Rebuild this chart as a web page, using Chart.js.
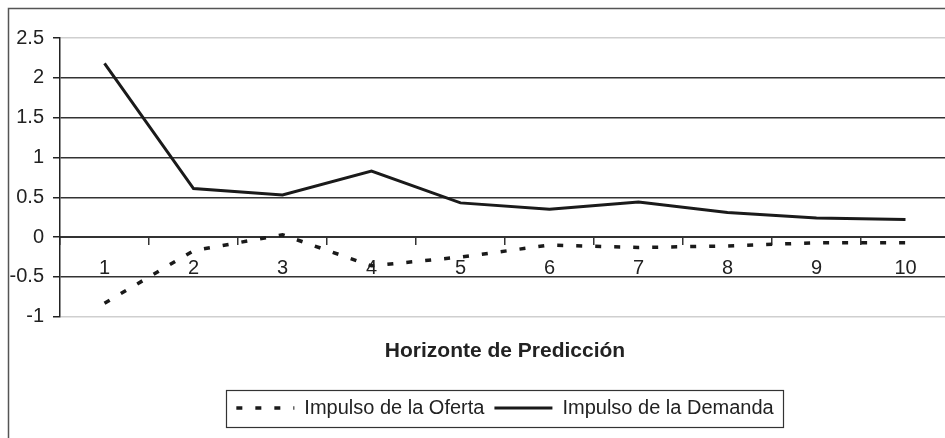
<!DOCTYPE html>
<html>
<head>
<meta charset="utf-8">
<script src="https://cdn.jsdelivr.net/npm/chart.js@4.4.1/dist/chart.umd.min.js"></script>
<style>
  html, body { margin: 0; padding: 0; background: #fff; overflow: hidden; }
  #wrap { width: 950px; height: 438px; position: relative; }
</style>
</head>
<body>
<div id="wrap"><canvas id="chart"></canvas></div>
<script>
// datos
const horizons = ["1", "2", "3", "4", "5", "6", "7", "8", "9", "10"];
const ofertaLabel = "Impulso de la Oferta";
const demandaLabel = "Impulso de la Demanda";
const oferta = [-0.83, -0.17, 0.03, -0.36, -0.25, -0.10, -0.13, -0.11, -0.07, -0.07];
const demanda = [2.18, 0.61, 0.53, 0.83, 0.43, 0.35, 0.44, 0.31, 0.24, 0.22];
const xTitle = "Horizonte de Predicción";

const FONT = "Arial, 'Liberation Sans', sans-serif";

// marco exterior (solo se ven izquierda y arriba)
const framePlugin = {
  id: "frame",
  beforeDraw: (chart) => {
    const ctx = chart.ctx;
    ctx.save();
    ctx.strokeStyle = "#555";
    ctx.lineWidth = 1.5;
    ctx.strokeRect(8.5, 8.5, 2000, 2000);
    ctx.restore();
  },
};

// recuadro de la leyenda
const legendBoxPlugin = {
  id: "legendBox",
  afterDraw: (chart) => {
    const lg = chart.legend;
    if (!lg || !lg.legendHitBoxes.length) return;
    const hb = lg.legendHitBoxes;
    const left = Math.min(...hb.map((h) => h.left)) - 10;
    const right = Math.max(...hb.map((h) => h.left + h.width)) + 10;
    const cy = hb[0].top + hb[0].height / 2;
    const ctx = chart.ctx;
    ctx.save();
    ctx.strokeStyle = "#333";
    ctx.lineWidth = 1.2;
    ctx.strokeRect(Math.round(left) + 0.5, Math.round(cy - 18.5) + 0.5, Math.round(right - left), 37);
    ctx.restore();
  },
};

const ctx = document.getElementById("chart").getContext("2d");

new Chart(ctx, {
  type: "line",
  data: {
    labels: horizons,
    datasets: [
      {
        label: ofertaLabel,
        data: oferta,
        borderColor: "#1a1a1a",
        borderWidth: 3.5,
        borderDash: [6, 13],
        tension: 0,
        pointRadius: 0,
        fill: false,
      },
      {
        label: demandaLabel,
        data: demanda,
        borderColor: "#1a1a1a",
        borderWidth: 3,
        tension: 0,
        pointRadius: 0,
        fill: false,
      },
    ],
  },
  options: {
    responsive: true,
    maintainAspectRatio: false,
    animation: false,
    layout: { padding: { top: 38, left: 0, right: 0, bottom: 10 } },
    scales: {
      x: {
        type: "category",
        position: { y: 0 },
        offset: true,
        grid: {
          offset: true,
          drawOnChartArea: false,
          drawTicks: true,
          tickLength: 7,
          color: "#333",
          lineWidth: 1.5,
        },
        border: { display: true, color: "#333", width: 2 },
        ticks: {
          padding: 12,
          color: "#222",
          font: { family: FONT, size: 20 },
          maxRotation: 0,
          autoSkip: false,
        },
      },
      y: {
        min: -1,
        max: 2.5,
        afterFit: (scale) => {
          scale.width = 60;
        },
        ticks: {
          stepSize: 0.5,
          padding: 9,
          color: "#222",
          font: { family: FONT, size: 20 },
          callback: (v) => String(v),
        },
        grid: {
          color: (c) =>
            c.tick && (c.tick.value === 2.5 || c.tick.value === -1) ? "#cfcfcf" : "#333",
          lineWidth: 1.5,
          tickLength: 7,
          tickColor: "#222",
        },
        border: { display: true, color: "#222", width: 1.5 },
      },
    },
    plugins: {
      title: {
        display: true,
        text: xTitle,
        position: "bottom",
        fullSize: false,
        color: "#222",
        font: { family: FONT, size: 21, weight: "bold" },
        padding: { top: 22, bottom: 24 },
      },
      legend: {
        display: true,
        position: "bottom",
        fullSize: false,
        weight: 3000,
        labels: {
          usePointStyle: true,
          pointStyle: "line",
          pointStyleWidth: 58,
          padding: 10,
          color: "#222",
          font: { family: FONT, size: 20 },
          // trazo y guiones de la serie en la muestra
          generateLabels: (chart) => {
            const items = Chart.defaults.plugins.legend.labels.generateLabels(chart);
            items.forEach((it) => {
              const ds = chart.data.datasets[it.datasetIndex];
              it.lineDash = ds.borderDash || [];
              it.lineWidth = ds.borderWidth;
              it.strokeStyle = ds.borderColor;
            });
            return items;
          },
        },
      },
      tooltip: { enabled: false },
    },
  },
  plugins: [framePlugin, legendBoxPlugin],
});
</script>
</body>
</html>
